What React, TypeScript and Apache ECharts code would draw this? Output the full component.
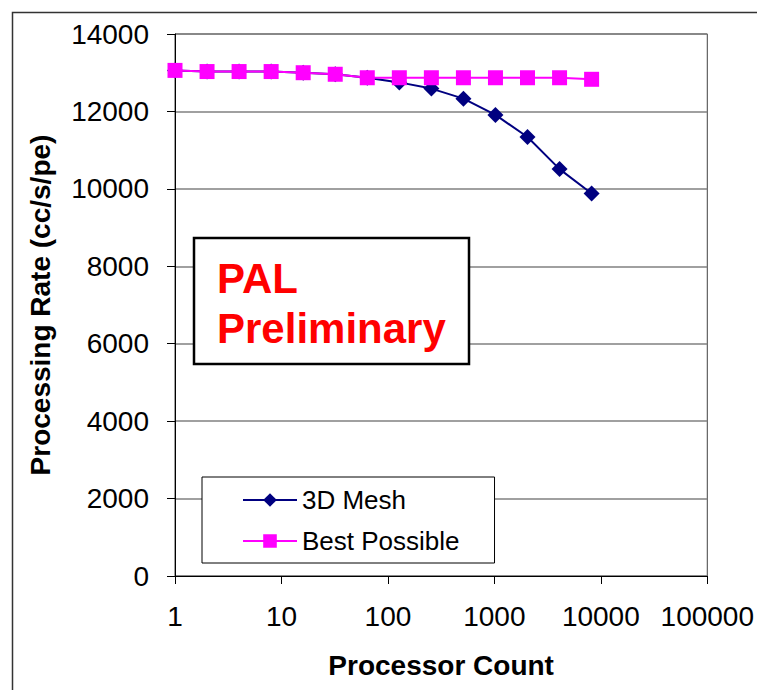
import React, { useEffect, useRef } from "react";
import * as echarts from "echarts";

const processors = [1, 2, 4, 8, 16, 32, 64, 128, 256, 512, 1024, 2048, 4096, 8192];
const meshRate = [13060, 13030, 13030, 13030, 13000, 12960, 12870, 12750, 12590, 12330, 11910, 11340, 10510, 9880];
const bestRate = [13060, 13030, 13030, 13030, 13000, 12960, 12870, 12870, 12870, 12870, 12870, 12870, 12870, 12830];
const seriesNames = ["3D Mesh", "Best Possible"];
const yTitle = "Processing Rate (cc/s/pe)";
const xTitle = "Processor Count";
const stampLines = ["PAL", "Preliminary"];

const FONT = "'Liberation Sans', Arial, Helvetica, sans-serif";

export default function App() {
  const ref = useRef<HTMLDivElement>(null);
  useEffect(() => {
    document.body.style.margin = "0";
    const chart = echarts.init(ref.current!, null, { renderer: "svg" });
    chart.setOption({
      animation: false,
      backgroundColor: "#ffffff",
      textStyle: { fontFamily: FONT },
      grid: {
        left: 175,
        right: 49,
        top: 34,
        bottom: 114,
        show: true,
        borderColor: "#404040",
        borderWidth: 1,
        backgroundColor: "transparent",
      },
      xAxis: {
        type: "log",
        logBase: 10,
        min: 1,
        max: 100000,
        name: xTitle,
        nameLocation: "middle",
        nameGap: 75,
        nameTextStyle: { fontFamily: FONT, fontSize: 28, fontWeight: "bold", color: "#000" },
        axisLine: { show: true, lineStyle: { color: "#000", width: 1 } },
        axisTick: { show: true, length: 8, lineStyle: { color: "#000" } },
        axisLabel: {
          fontFamily: FONT,
          fontSize: 28,
          color: "#000",
          margin: 26,
          formatter: (v: number) => String(Math.round(v)),
        },
        splitLine: { show: false },
        minorTick: { show: false },
      },
      yAxis: {
        type: "value",
        min: 0,
        max: 14000,
        interval: 2000,
        name: yTitle,
        nameLocation: "middle",
        nameGap: 121,
        nameTextStyle: { fontFamily: FONT, fontSize: 28, fontWeight: "bold", color: "#000" },
        axisLine: { show: true, lineStyle: { color: "#000", width: 1 } },
        axisTick: { show: true, length: 8, lineStyle: { color: "#000" } },
        axisLabel: {
          fontFamily: FONT,
          fontSize: 28,
          color: "#000",
          margin: 26,
          formatter: (v: number) => String(v),
        },
        splitLine: { show: true, lineStyle: { color: "#808080", width: 1.5 } },
      },
      legend: {
        orient: "vertical",
        left: 202,
        top: 477,
        data: seriesNames,
        backgroundColor: "#ffffff",
        borderColor: "#000",
        borderWidth: 1,
        borderRadius: 0,
        padding: [10, 35, 9, 40],
        itemGap: 15,
        itemWidth: 54,
        itemHeight: 17,
        textStyle: { fontFamily: FONT, fontSize: 26, color: "#000" },
        z: 10,
      },
      series: [
        {
          name: seriesNames[0],
          type: "line",
          data: processors.map((p, i) => [p, meshRate[i]]),
          symbol: "diamond",
          symbolSize: 16,
          itemStyle: { color: "#000080" },
          lineStyle: { color: "#000080", width: 2 },
          z: 2,
        },
        {
          name: seriesNames[1],
          type: "line",
          data: processors.map((p, i) => [p, bestRate[i]]),
          symbol: "rect",
          symbolSize: 15,
          itemStyle: { color: "#FF00FF" },
          lineStyle: { color: "#FF00FF", width: 2 },
          z: 3,
        },
      ],
      graphic: [
        {
          type: "rect",
          left: 10,
          top: 10,
          shape: { x: 0, y: 0, width: 780, height: 720 },
          style: { fill: "none", stroke: "#333", lineWidth: 1.5 },
          silent: true,
          z: 0,
        },
        {
          type: "rect",
          shape: { x: 194, y: 238, width: 275, height: 126 },
          style: { fill: "#ffffff", stroke: "#000", lineWidth: 2.5 },
          z: 20,
        },
        {
          type: "text",
          x: 217,
          y: 278,
          z: 21,
          style: {
            text: stampLines[0],
            fill: "#FF0000",
            font: "bold 42px " + FONT,
            verticalAlign: "middle",
            align: "left",
          },
        },
        {
          type: "text",
          x: 217,
          y: 328,
          z: 21,
          style: {
            text: stampLines[1],
            fill: "#FF0000",
            font: "bold 42px " + FONT,
            verticalAlign: "middle",
            align: "left",
          },
        },
      ],
    });
    return () => chart.dispose();
  }, []);
  return <div ref={ref} style={{ width: 757, height: 690 }} />;
}
